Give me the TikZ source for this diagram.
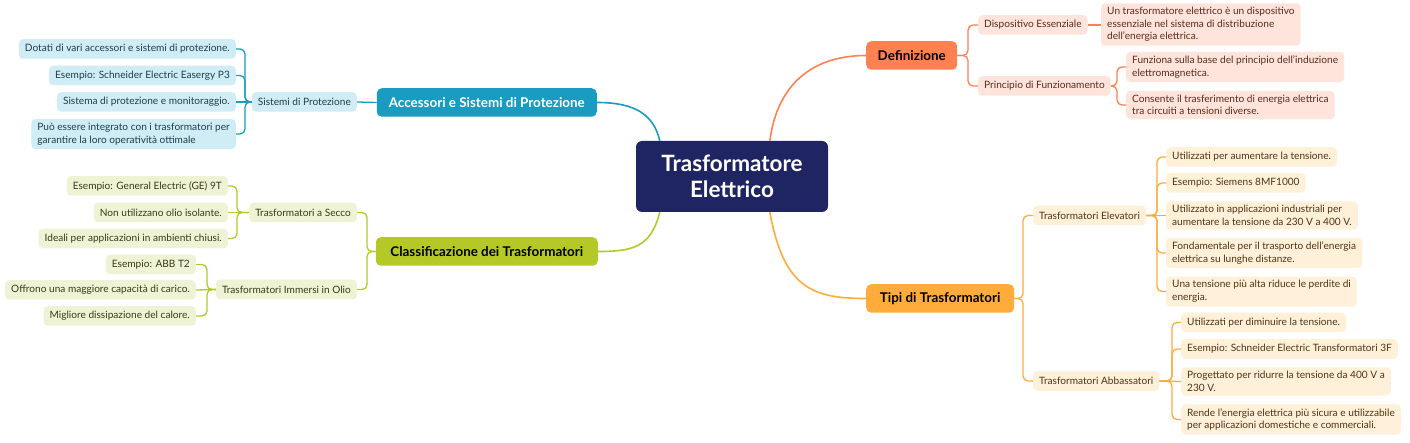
\documentclass[tikz,border=0pt]{standalone}
\usepackage{fontspec}
\setmainfont{Lato}
\usetikzlibrary{calc}
\definecolor{ctrC}{HTML}{1F2563}
\definecolor{tealC}{HTML}{1A9CC0}
\definecolor{tealL}{HTML}{D0ECF4}
\definecolor{tealT}{HTML}{1E3F4E}
\definecolor{greenC}{HTML}{B4C828}
\definecolor{greenL}{HTML}{EEF3D6}
\definecolor{greenT}{HTML}{3A3A14}
\definecolor{coralC}{HTML}{FF8152}
\definecolor{coralL}{HTML}{FFE4DB}
\definecolor{coralT}{HTML}{5A2A1C}
\definecolor{orgC}{HTML}{FFAC3A}
\definecolor{orgL}{HTML}{FFF0DA}
\definecolor{orgT}{HTML}{4E3412}
\tikzset{
  base/.style={rounded corners=4pt, inner xsep=6pt, inner ysep=4pt, minimum height=19.5pt,
    font=\fontsize{10.1}{12.6}\selectfont, align=left},
  leafT/.style={base, fill=tealL, text=tealT},
  leafG/.style={base, fill=greenL, text=greenT},
  leafC/.style={base, fill=coralL, text=coralT},
  leafO/.style={base, fill=orgL, text=orgT},
  mainbox/.style={rounded corners=5pt, inner xsep=8pt, minimum height=28.5pt,
    font=\fontsize{13.4}{16}\selectfont\bfseries},
  lineT/.style={draw=tealC, line width=1.3pt, rounded corners=5pt},
  lineG/.style={draw=greenC, line width=1.3pt, rounded corners=5pt},
  lineC/.style={draw=coralC, line width=1.3pt, rounded corners=5pt},
  lineO/.style={draw=orgC, line width=1.3pt, rounded corners=5pt},
}
\begin{document}
\begin{tikzpicture}[x=1pt,y=-1pt]
\useasboundingbox[fill=white] (0,0) rectangle (1410,443);
% bracket positions
\coordinate (bA) at (245,0);
\coordinate (bG) at (367,0);
\coordinate (bS) at (237,0);
\coordinate (bI) at (207,0);
\coordinate (bD) at (968,0);
\coordinate (bP) at (1117,0);
\coordinate (bO) at (1023,0);
\coordinate (bE) at (1157,0);
\coordinate (bB) at (1172,0);
% center
\node[fill=ctrC, text=white, rounded corners=6pt, minimum width=192pt, minimum height=71pt,
  align=center, font=\fontsize{22.5}{26}\selectfont\bfseries] (ctr) at (732,176.5) {Trasformatore\\Elettrico};
% main branches
\node[mainbox, fill=tealC, text=white, anchor=east, minimum width=220pt] (acc) at (597,102.5) {Accessori e Sistemi di Protezione};
\node[mainbox, fill=greenC, text=black, anchor=east, minimum width=222pt] (cls) at (598,251.5) {Classificazione dei Trasformatori};
\node[mainbox, fill=coralC, text=black, anchor=west, minimum width=91pt] (def) at (866,55.5) {Definizione};
\node[mainbox, fill=orgC, text=black, anchor=west, minimum width=148pt] (tipi) at (866,298.5) {Tipi di Trasformatori};
% center connectors
\draw[tealC, line width=1.6pt] ($(ctr.north west)+(24,0)$) .. controls ($(ctr.north west)+(18,-25)$) and ($(acc.east)+(40,0)$) .. (acc.east);
\draw[coralC, line width=1.6pt] ($(ctr.north west)+(134,0)$) .. controls ($(ctr.north west)+(142,-60)$) and ($(def.west)+(-50,0)$) .. (def.west);
\draw[greenC, line width=1.6pt] ($(ctr.south west)+(24,0)$) .. controls ($(ctr.south west)+(15,35)$) and ($(cls.east)+(35,0)$) .. (cls.east);
\draw[orgC, line width=1.6pt] ($(ctr.south west)+(134,0)$) .. controls ($(ctr.south west)+(148,75)$) and ($(tipi.west)+(-55,0)$) .. (tipi.west);
% ---- Accessori subtree
\node[leafT, anchor=east] (sis) at (357,102) {Sistemi di Protezione};
\node[leafT, anchor=east] (a1) at (236,49) {Dotati di vari accessori e sistemi di protezione.};
\node[leafT, anchor=east] (a2) at (236,75.5) {Esempio: Schneider Electric Easergy P3};
\node[leafT, anchor=east] (a3) at (236,102) {Sistema di protezione e monitoraggio.};
\node[leafT, anchor=east] (a4) at (236,134) {Può essere integrato con i trasformatori per\\garantire la loro operatività ottimale};
\draw[lineT] (acc.west) -- (sis.east);
\foreach \n in {a1,a2,a4} \draw[lineT] (sis.west) -- (sis.west -| bA) |- (\n.east);
\draw[lineT] (sis.west) -- (a3.east);
% ---- Classificazione subtree
\node[leafG, anchor=east] (sec) at (357,212.5) {Trasformatori a Secco};
\node[leafG, anchor=east] (imm) at (357,289.5) {Trasformatori Immersi in Olio};
\foreach \n in {sec,imm} \draw[lineG] (cls.west) -- (cls.west -| bG) |- (\n.east);
\node[leafG, anchor=east] (g1) at (228,186) {Esempio: General Electric (GE) 9T};
\node[leafG, anchor=east] (g2) at (228,212.5) {Non utilizzano olio isolante.};
\node[leafG, anchor=east] (g3) at (228,238.5) {Ideali per applicazioni in ambienti chiusi.};
\foreach \n in {g1,g3} \draw[lineG] (sec.west) -- (sec.west -| bS) |- (\n.east);
\draw[lineG] (sec.west) -- (g2.east);
\node[leafG, anchor=east] (g4) at (196,264.5) {Esempio: ABB T2};
\node[leafG, anchor=east] (g5) at (196,290) {Offrono una maggiore capacità di carico.};
\node[leafG, anchor=east] (g6) at (196,316) {Migliore dissipazione del calore.};
\foreach \n in {g4,g6} \draw[lineG] (imm.west) -- (imm.west -| bI) |- (\n.east);
\draw[lineG] (imm.west) -- (g5.east);
% ---- Definizione subtree
\node[leafC, anchor=west] (dis) at (978,25) {Dispositivo Essenziale};
\node[leafC, anchor=west] (pri) at (978,86) {Principio di Funzionamento};
\foreach \n in {dis,pri} \draw[lineC] (def.east) -- (def.east -| bD) |- (\n.west);
\node[leafC, anchor=west] (c1) at (1101,24.5) {Un trasformatore elettrico è un dispositivo\\essenziale nel sistema di distribuzione\\dell’energia elettrica.};
\draw[lineC] (dis.east) -- (dis.east -| c1.west);
\node[leafC, anchor=west] (c2) at (1126,67) {Funziona sulla base del principio dell’induzione\\elettromagnetica.};
\node[leafC, anchor=west] (c3) at (1126,105) {Consente il trasferimento di energia elettrica\\tra circuiti a tensioni diverse.};
\foreach \n in {c2,c3} \draw[lineC] (pri.east) -- (pri.east -| bP) |- (\n.west);
% ---- Tipi subtree
\node[leafO, anchor=west] (ele) at (1033,215.5) {Trasformatori Elevatori};
\node[leafO, anchor=west] (abb) at (1033,381) {Trasformatori Abbassatori};
\foreach \n in {ele,abb} \draw[lineO] (tipi.east) -- (tipi.east -| bO) |- (\n.west);
\node[leafO, anchor=west] (o1) at (1166,157) {Utilizzati per aumentare la tensione.};
\node[leafO, anchor=west] (o2) at (1166,183) {Esempio: Siemens 8MF1000};
\node[leafO, anchor=west] (o3) at (1166,215.5) {Utilizzato in applicazioni industriali per\\aumentare la tensione da 230 V a 400 V.};
\node[leafO, anchor=west] (o4) at (1166,253) {Fondamentale per il trasporto dell’energia\\elettrica su lunghe distanze.};
\node[leafO, anchor=west] (o5) at (1166,291.5) {Una tensione più alta riduce le perdite di\\energia.};
\foreach \n in {o1,o2,o4,o5} \draw[lineO] (ele.east) -- (ele.east -| bE) |- (\n.west);
\draw[lineO] (ele.east) -- (o3.west);
\node[leafO, anchor=west] (o6) at (1181,322.5) {Utilizzati per diminuire la tensione.};
\node[leafO, anchor=west] (o7) at (1181,349) {Esempio: Schneider Electric Transformatori 3F};
\node[leafO, anchor=west] (o8) at (1181,381.5) {Progettato per ridurre la tensione da 400 V a\\230 V.};
\node[leafO, anchor=west] (o9) at (1181,419.5) {Rende l’energia elettrica più sicura e utilizzabile\\per applicazioni domestiche e commerciali.};
\foreach \n in {o6,o7,o9} \draw[lineO] (abb.east) -- (abb.east -| bB) |- (\n.west);
\draw[lineO] (abb.east) -- (o8.west);
\end{tikzpicture}
\end{document}
